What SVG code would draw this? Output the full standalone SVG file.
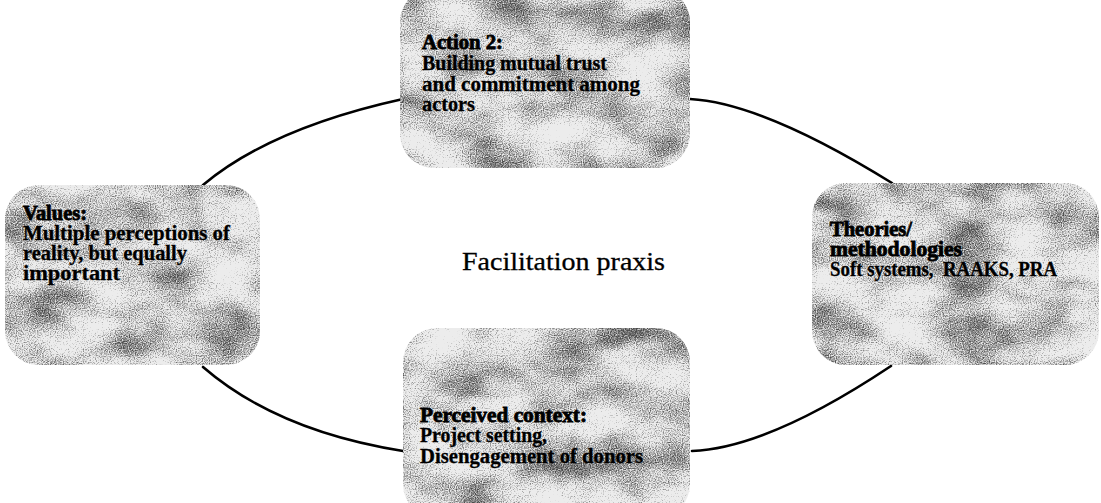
<svg xmlns="http://www.w3.org/2000/svg" width="1101" height="503" viewBox="0 0 1101 503">
  <style>
    .box { fill: #ececec; filter: url(#stipple); }
    .head { font-family: "Liberation Serif", "DejaVu Serif", serif; font-size: 20px; font-weight: bold; fill: #000; stroke: #000; stroke-width: 0.8px; }
    .body { font-family: "Liberation Serif", "DejaVu Serif", serif; font-size: 20px; font-weight: bold; fill: #000; stroke: #000; stroke-width: 0.3px; }
    .center { font-family: "Liberation Serif", "DejaVu Serif", serif; font-size: 25px; fill: #000; stroke: #000; stroke-width: 0.3px; }
    .link { fill: none; stroke: #000; stroke-width: 2.6px; stroke-linecap: round; }
  </style>
  <defs>
    <!-- grainy halftone speckle used inside the rounded panels -->
    <filter id="stipple" x="0" y="0" width="1" height="1" color-interpolation-filters="sRGB">
      <feTurbulence type="fractalNoise" baseFrequency="0.015 0.025" numOctaves="3" seed="5" result="cloudRaw"/>
      <feColorMatrix in="cloudRaw" type="matrix" values="1 0 0 0 0  1 0 0 0 0  1 0 0 0 0  0 0 0 0 1" result="cloud"/>
      <feTurbulence type="fractalNoise" baseFrequency="0.85" numOctaves="1" seed="2" result="dotsRaw"/>
      <feColorMatrix in="dotsRaw" type="matrix" values="1 0 0 0 0  1 0 0 0 0  1 0 0 0 0  0 0 0 0 1" result="dots"/>
      <feComposite in="cloud" in2="dots" operator="arithmetic" k1="0" k2="0.8" k3="1" k4="-0.4" result="mix"/>
      <feColorMatrix in="mix" type="matrix" values="0 0 0 0 0.3  0 0 0 0 0.3  0 0 0 0 0.3  2.2 0 0 0 -0.9" result="speck"/>
      <feComposite in="speck" in2="SourceAlpha" operator="in" result="speckIn"/>
      <feMerge>
        <feMergeNode in="SourceGraphic"/>
        <feMergeNode in="speckIn"/>
      </feMerge>
    </filter>
  </defs>

  <rect width="1101" height="503" fill="#fff"/>

  <!-- curved links forming the cycle -->
  <g id="connectors">
    <path class="link" d="M203,185 Q271,128 403,99"/>
    <path class="link" d="M690,99 Q763,103 892,183"/>
    <path class="link" d="M203,367 Q277,431 403,451"/>
    <path class="link" d="M692,451 Q768,448 891,366"/>
  </g>

  <g id="action2">
    <rect class="box" x="400" y="-12" width="290" height="180" rx="34"/>
    <text class="head" x="422" y="49" textLength="81" lengthAdjust="spacingAndGlyphs">Action 2:</text>
    <text class="body" x="422" y="70" textLength="185" lengthAdjust="spacingAndGlyphs">Building mutual trust</text>
    <text class="body" x="422" y="91" textLength="218" lengthAdjust="spacingAndGlyphs">and commitment among</text>
    <text class="body" x="422" y="111" textLength="53" lengthAdjust="spacingAndGlyphs">actors</text>
  </g>

  <g id="values">
    <rect class="box" x="5" y="185" width="255" height="180" rx="34"/>
    <text class="head" x="23" y="220" textLength="64" lengthAdjust="spacingAndGlyphs">Values:</text>
    <text class="body" x="23" y="240" textLength="207" lengthAdjust="spacingAndGlyphs">Multiple perceptions of</text>
    <text class="body" x="23" y="260" textLength="164" lengthAdjust="spacingAndGlyphs">reality, but equally</text>
    <text class="body" x="23" y="280" textLength="97" lengthAdjust="spacingAndGlyphs">important</text>
  </g>

  <g id="theories">
    <rect class="box" x="812" y="183" width="287" height="182" rx="34"/>
    <text class="head" x="830" y="236" textLength="82" lengthAdjust="spacingAndGlyphs">Theories/</text>
    <text class="head" x="830" y="256" textLength="132" lengthAdjust="spacingAndGlyphs">methodologies</text>
    <text class="body" x="830" y="276" textLength="227" lengthAdjust="spacingAndGlyphs">Soft systems,&#160; RAAKS, PRA</text>
  </g>

  <g id="context">
    <rect class="box" x="403" y="328" width="287" height="190" rx="34"/>
    <text class="head" x="420" y="422" textLength="167" lengthAdjust="spacingAndGlyphs">Perceived context:</text>
    <text class="body" x="420" y="442" textLength="127" lengthAdjust="spacingAndGlyphs">Project setting,</text>
    <text class="body" x="420" y="463" textLength="223" lengthAdjust="spacingAndGlyphs">Disengagement of donors</text>
  </g>

  <g id="praxis">
    <text class="center" x="462" y="270" textLength="203" lengthAdjust="spacingAndGlyphs">Facilitation praxis</text>
  </g>
</svg>
